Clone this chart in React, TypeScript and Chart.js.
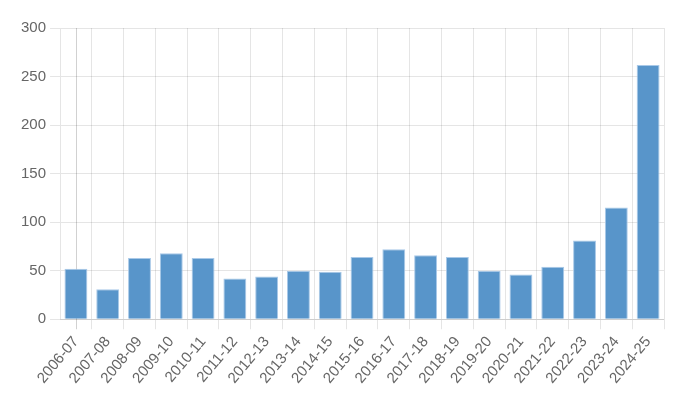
import React, { useEffect, useRef } from "react";
import { Chart, registerables } from "chart.js";

Chart.register(...registerables);

const categories = [
  "2006-07", "2007-08", "2008-09", "2009-10", "2010-11", "2011-12", "2012-13",
  "2013-14", "2014-15", "2015-16", "2016-17", "2017-18", "2018-19", "2019-20",
  "2020-21", "2021-22", "2022-23", "2023-24", "2024-25",
];
const values = [52, 31, 63, 68, 63, 42, 44, 50, 49, 64, 72, 66, 64, 50, 46, 54, 81, 115, 262];
const yTicks = [0, 50, 100, 150, 200, 250, 300];

const firstLinePlugin = {
  id: "firstLine",
  beforeDatasetsDraw(chart: any) {
    const x = chart.scales.x;
    const area = chart.chartArea;
    const px = Math.round(x.getPixelForValue(0)) + 0.5;
    const c = chart.ctx;
    c.save();
    c.strokeStyle = "rgba(0,0,0,0.18)";
    c.lineWidth = 1;
    c.beginPath();
    c.moveTo(px, area.top);
    c.lineTo(px, area.bottom + 10);
    c.stroke();
    c.restore();
  },
};

export default function App() {
  const ref = useRef<HTMLCanvasElement>(null);
  useEffect(() => {
    if (!ref.current) return;
    const font = { family: "'Liberation Sans', Arial, sans-serif", size: 15 };
    const chart = new Chart(ref.current, {
      type: "bar",
      data: {
        labels: categories,
        datasets: [
          {
            data: values,
            backgroundColor: "#5895ca",
            borderColor: "#a9c9e8",
            borderWidth: 1,
          },
        ],
      },
      options: {
        animation: false,
        responsive: false,
        layout: { padding: { left: 17, right: 33, top: 28, bottom: 27 } },
        plugins: { legend: { display: false }, tooltip: { enabled: false } },
        scales: {
          x: {
            grid: {
              offset: true,
              color: (ctx: any) => (ctx.index === 0 ? "rgba(0,0,0,0)" : "rgba(0,0,0,0.1)"),
              tickLength: 10,
            },
            border: { color: "rgba(0,0,0,0.1)" },
            ticks: { color: "#666", font, minRotation: 50, maxRotation: 50, autoSkip: false, padding: 4 },
          },
          y: {
            min: 0,
            max: 300,
            afterBuildTicks: (axis: any) => {
              axis.ticks = yTicks.map((v) => ({ value: v }));
            },
            grid: { color: "rgba(0,0,0,0.1)", tickLength: 10 },
            border: { color: "rgba(0,0,0,0.1)" },
            ticks: { color: "#666", font, padding: 4 },
          },
        },
      },
      plugins: [firstLinePlugin],
    });
    return () => chart.destroy();
  }, []);
  return (
    <canvas
      ref={ref}
      width={697}
      height={418}
      style={{ position: "absolute", left: 0, top: 0, width: 697, height: 418 }}
    />
  );
}
